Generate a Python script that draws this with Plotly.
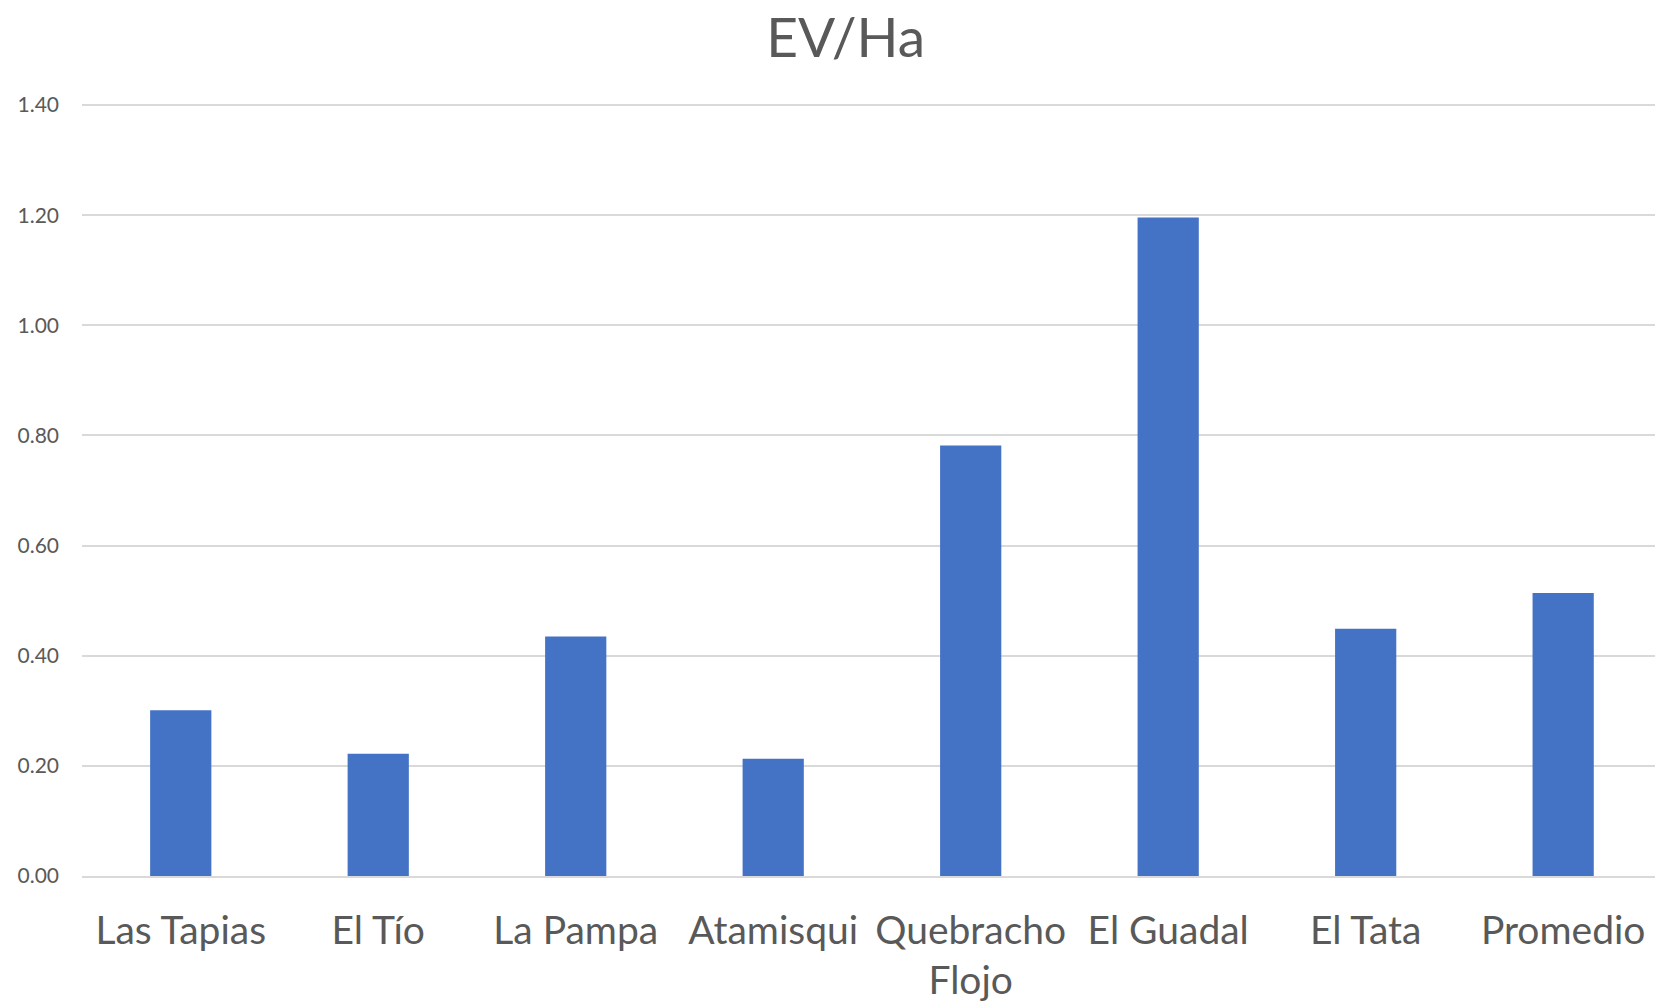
import plotly.graph_objects as go

categories = ["Las Tapias", "El Tío", "La Pampa", "Atamisqui", "Quebracho<br>Flojo",
              "El Guadal", "El Tata", "Promedio"]
ev_ha = [0.301, 0.222, 0.435, 0.213, 0.782, 1.196, 0.449, 0.514]
y_ticks = [0.0, 0.2, 0.4, 0.6, 0.8, 1.0, 1.2, 1.4]

font_family = "Lato, 'Open Sans', sans-serif"
grey = "#595959"

fig = go.Figure(go.Bar(
    x=categories,
    y=ev_ha,
    marker=dict(color="#4472c4", line=dict(width=0)),
    width=0.31,
))

fig.update_layout(
    width=1655,
    height=1008,
    paper_bgcolor="white",
    plot_bgcolor="white",
    margin=dict(l=82, r=0, t=104, b=132),
    title=dict(text="EV/Ha", x=0.511, xanchor="center", y=0.963, yanchor="middle",
               font=dict(family=font_family, size=55, color=grey)),
    font=dict(family=font_family, color=grey),
    showlegend=False,
)
fig.update_xaxes(
    automargin=False,
    # the original chart runs slightly past the right edge of the picture
    range=[-0.5, len(categories) - 0.535],
    tickfont=dict(size=39, color=grey),
    showgrid=False,
    showline=True,
    linecolor="#d9d9d9",
    linewidth=1.5,
    ticks="",
    ticklabelstandoff=19,
)
fig.update_yaxes(
    automargin=False,
    range=[0, 1.402],
    tickvals=y_ticks,
    tickformat=".2f",
    tickfont=dict(size=21, color=grey),
    showgrid=True,
    gridcolor="#d9d9d9",
    gridwidth=1.5,
    zeroline=False,
    showline=False,
    ticks="",
    ticklabelstandoff=22,
)

# drop the default 8px body margin so the figure fills the window exactly
fig.write_html("out.html", config={"displayModeBar": False},
               post_script="document.body.style.margin = '0';")
